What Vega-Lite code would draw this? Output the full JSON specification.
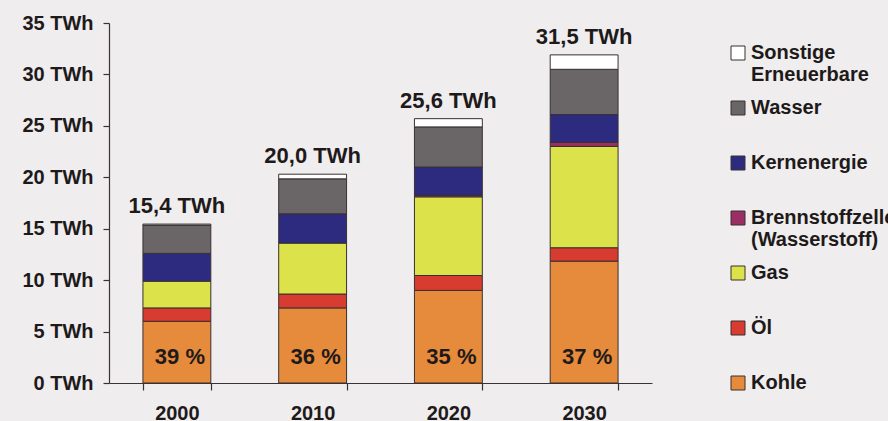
{
  "$schema": "https://vega.github.io/schema/vega-lite/v6.json",
  "width": 543,
  "height": 360,
  "autosize": "none",
  "padding": {"left": 109, "top": 23, "right": 236, "bottom": 38},
  "background": "#efedee",
  "config": {
    "view": {"stroke": null},
    "font": "Liberation Sans",
    "axis": {"labelFont": "Liberation Sans", "labelFontWeight": "bold", "labelColor": "#1e1a1a", "domainColor": "#3a3333", "tickColor": "#3a3333", "domainWidth": 1.2, "tickWidth": 1.2},
    "legend": {"labelFont": "Liberation Sans"}
  },
  "datasets": {
    "bars": [
      {"year": "2000", "source": "Kohle", "o": 1, "twh": 6.0},
      {"year": "2000", "source": "Öl", "o": 2, "twh": 1.3},
      {"year": "2000", "source": "Gas", "o": 3, "twh": 2.6},
      {"year": "2000", "source": "Kernenergie", "o": 5, "twh": 2.7},
      {"year": "2000", "source": "Wasser", "o": 6, "twh": 2.75},
      {"year": "2000", "source": "Sonstige Erneuerbare", "o": 7, "twh": 0.1},
      {"year": "2010", "source": "Kohle", "o": 1, "twh": 7.3},
      {"year": "2010", "source": "Öl", "o": 2, "twh": 1.35},
      {"year": "2010", "source": "Gas", "o": 3, "twh": 4.95},
      {"year": "2010", "source": "Kernenergie", "o": 5, "twh": 2.85},
      {"year": "2010", "source": "Wasser", "o": 6, "twh": 3.4},
      {"year": "2010", "source": "Sonstige Erneuerbare", "o": 7, "twh": 0.45},
      {"year": "2020", "source": "Kohle", "o": 1, "twh": 9.0},
      {"year": "2020", "source": "Öl", "o": 2, "twh": 1.45},
      {"year": "2020", "source": "Gas", "o": 3, "twh": 7.65},
      {"year": "2020", "source": "Brennstoffzelle (Wasserstoff)", "o": 4, "twh": 0.15},
      {"year": "2020", "source": "Kernenergie", "o": 5, "twh": 2.75},
      {"year": "2020", "source": "Wasser", "o": 6, "twh": 3.9},
      {"year": "2020", "source": "Sonstige Erneuerbare", "o": 7, "twh": 0.8},
      {"year": "2030", "source": "Kohle", "o": 1, "twh": 11.85},
      {"year": "2030", "source": "Öl", "o": 2, "twh": 1.3},
      {"year": "2030", "source": "Gas", "o": 3, "twh": 9.85},
      {"year": "2030", "source": "Brennstoffzelle (Wasserstoff)", "o": 4, "twh": 0.4},
      {"year": "2030", "source": "Kernenergie", "o": 5, "twh": 2.7},
      {"year": "2030", "source": "Wasser", "o": 6, "twh": 4.4},
      {"year": "2030", "source": "Sonstige Erneuerbare", "o": 7, "twh": 1.4}
    ],
    "totals": [
      {"year": "2000", "top": 15.45, "label": "15,4 TWh", "pct": "39 %"},
      {"year": "2010", "top": 20.3, "label": "20,0 TWh", "pct": "36 %"},
      {"year": "2020", "top": 25.7, "label": "25,6 TWh", "pct": "35 %"},
      {"year": "2030", "top": 31.9, "label": "31,5 TWh", "pct": "37 %"}
    ]
  },
  "layer": [
    {
      "data": {"name": "bars"},
      "mark": {"type": "bar", "stroke": "#3a3030", "strokeWidth": 1},
      "encoding": {
        "x": {
          "field": "year", "type": "nominal",
          "scale": {"paddingInner": 0.5, "paddingOuter": 0.25},
          "axis": {"title": null, "labelAngle": 0, "labelFontSize": 20, "tickBand": "extent", "tickSize": 7, "labelPadding": 13}
        },
        "y": {
          "field": "twh", "type": "quantitative", "stack": "zero",
          "scale": {"domain": [0, 35], "nice": false},
          "axis": {"title": null, "values": [0, 5, 10, 15, 20, 25, 30, 35], "labelExpr": "datum.value + ' TWh'", "labelFontSize": 20, "grid": false, "tickSize": 6, "labelPadding": 10}
        },
        "color": {
          "field": "source", "type": "nominal",
          "scale": {
            "domain": ["Sonstige Erneuerbare", "Wasser", "Kernenergie", "Brennstoffzelle (Wasserstoff)", "Gas", "Öl", "Kohle"],
            "range": ["#ffffff", "#6a6566", "#2c2b80", "#9a2f64", "#dbe24a", "#d83b2f", "#e68a3c"]
          },
          "legend": {
            "title": null, "orient": "none", "legendX": 619, "legendY": 20,
            "symbolType": "square", "symbolSize": 196, "symbolStrokeColor": "#3a3030", "symbolStrokeWidth": 1,
            "labelFontSize": 20, "labelFontWeight": "bold", "labelColor": "#1e1a1a", "labelOffset": 3, "labelLimit": 300,
            "rowPadding": 13,
            "labelExpr": "datum.label == 'Sonstige Erneuerbare' ? ['Sonstige', 'Erneuerbare'] : datum.label == 'Brennstoffzelle (Wasserstoff)' ? ['Brennstoffzelle', '(Wasserstoff)'] : [datum.label, '']"
          }
        },
        "order": {"field": "o", "type": "quantitative"}
      }
    },
    {
      "data": {"name": "totals"},
      "mark": {"type": "text", "fontSize": 22, "fontWeight": "bold", "color": "#1e1a1a", "dy": -18, "baseline": "middle"},
      "encoding": {
        "x": {"field": "year", "type": "nominal"},
        "y": {"field": "top", "type": "quantitative"},
        "text": {"field": "label"}
      }
    },
    {
      "data": {"name": "totals"},
      "mark": {"type": "text", "fontSize": 22, "fontWeight": "bold", "color": "#1e1a1a", "dy": -26, "dx": 3, "baseline": "middle"},
      "encoding": {
        "x": {"field": "year", "type": "nominal"},
        "y": {"datum": 0},
        "text": {"field": "pct"}
      }
    }
  ]
}
